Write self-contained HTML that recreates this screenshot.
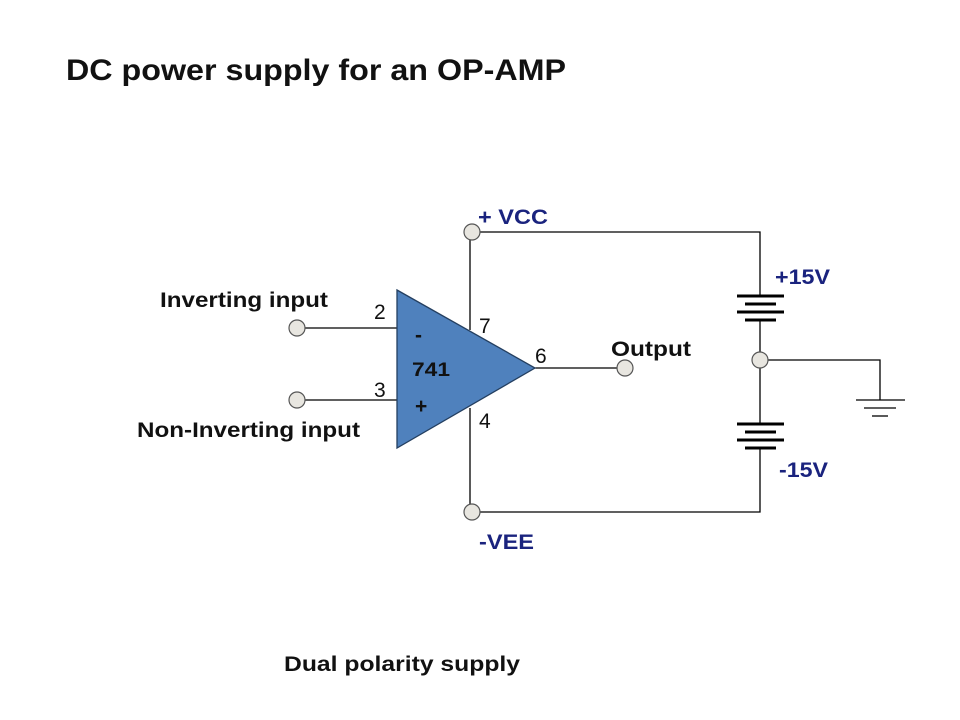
<!DOCTYPE html>
<html><head><style>body{margin:0;background:#fff}svg{display:block}</style></head>
<body>
<svg width="960" height="720" xmlns="http://www.w3.org/2000/svg" font-family="Liberation Sans, Arial, sans-serif">
<rect width="960" height="720" fill="#fff"/>
<text x="66" y="80" font-size="30" font-weight="bold" fill="#111" textLength="500" lengthAdjust="spacingAndGlyphs">DC power supply for an OP-AMP</text>
<g stroke="#000" stroke-width="1.3" fill="none">
<polyline points="472,232 760,232 760,296"/>
<polyline points="760,320 760,424"/>
<polyline points="472,512 760,512 760,448"/>
<polyline points="760,360 880,360 880,400"/>
<line x1="470" y1="232" x2="470" y2="330"/>
<line x1="470" y1="408" x2="470" y2="512"/>
<line x1="297" y1="328" x2="397" y2="328"/>
<line x1="297" y1="400" x2="397" y2="400"/>
<line x1="535" y1="368" x2="625" y2="368"/>
<line x1="856" y1="400" x2="905" y2="400"/>
<line x1="864" y1="408" x2="896" y2="408"/>
<line x1="872" y1="416" x2="888" y2="416"/>
</g>
<g stroke="#000" stroke-width="3">
<line x1="737" y1="296" x2="784" y2="296"/>
<line x1="745" y1="304" x2="776" y2="304"/>
<line x1="737" y1="312" x2="784" y2="312"/>
<line x1="745" y1="320" x2="776" y2="320"/>
<line x1="737" y1="424" x2="784" y2="424"/>
<line x1="745" y1="432" x2="776" y2="432"/>
<line x1="737" y1="440" x2="784" y2="440"/>
<line x1="745" y1="448" x2="776" y2="448"/>
</g>
<polygon points="397,290 535,368 397,448" fill="#4f81bd" stroke="#243f60" stroke-width="1.3"/>
<g fill="#e8e6e0" stroke="#555" stroke-width="1.2">
<circle cx="297" cy="328" r="8"/><circle cx="297" cy="400" r="8"/>
<circle cx="625" cy="368" r="8"/><circle cx="472" cy="232" r="8"/>
<circle cx="472" cy="512" r="8"/><circle cx="760" cy="360" r="8"/>
</g>
<g font-size="21" fill="#111" font-weight="bold">
<text x="160" y="307" textLength="168" lengthAdjust="spacingAndGlyphs">Inverting input</text>
<text x="137" y="437" textLength="223" lengthAdjust="spacingAndGlyphs">Non-Inverting input</text>
<text x="611" y="356" textLength="80" lengthAdjust="spacingAndGlyphs">Output</text>
<text x="412" y="376" font-size="19" textLength="38" lengthAdjust="spacingAndGlyphs">741</text>
<text x="415" y="342">-</text>
<text x="415" y="413">+</text>
<text x="284" y="671" textLength="236" lengthAdjust="spacingAndGlyphs">Dual  polarity supply</text>
</g>
<g font-size="21" fill="#111">
<text x="374" y="319">2</text>
<text x="374" y="397">3</text>
<text x="479" y="333">7</text>
<text x="535" y="363">6</text>
<text x="479" y="428">4</text>
</g>
<g font-size="21" fill="#1a237e" font-weight="bold">
<text x="478" y="224" textLength="70" lengthAdjust="spacingAndGlyphs">+ VCC</text>
<text x="775" y="284" textLength="55" lengthAdjust="spacingAndGlyphs">+15V</text>
<text x="779" y="477" textLength="49" lengthAdjust="spacingAndGlyphs">-15V</text>
<text x="479" y="549" textLength="55" lengthAdjust="spacingAndGlyphs">-VEE</text>
</g>
</svg>
</body></html>
